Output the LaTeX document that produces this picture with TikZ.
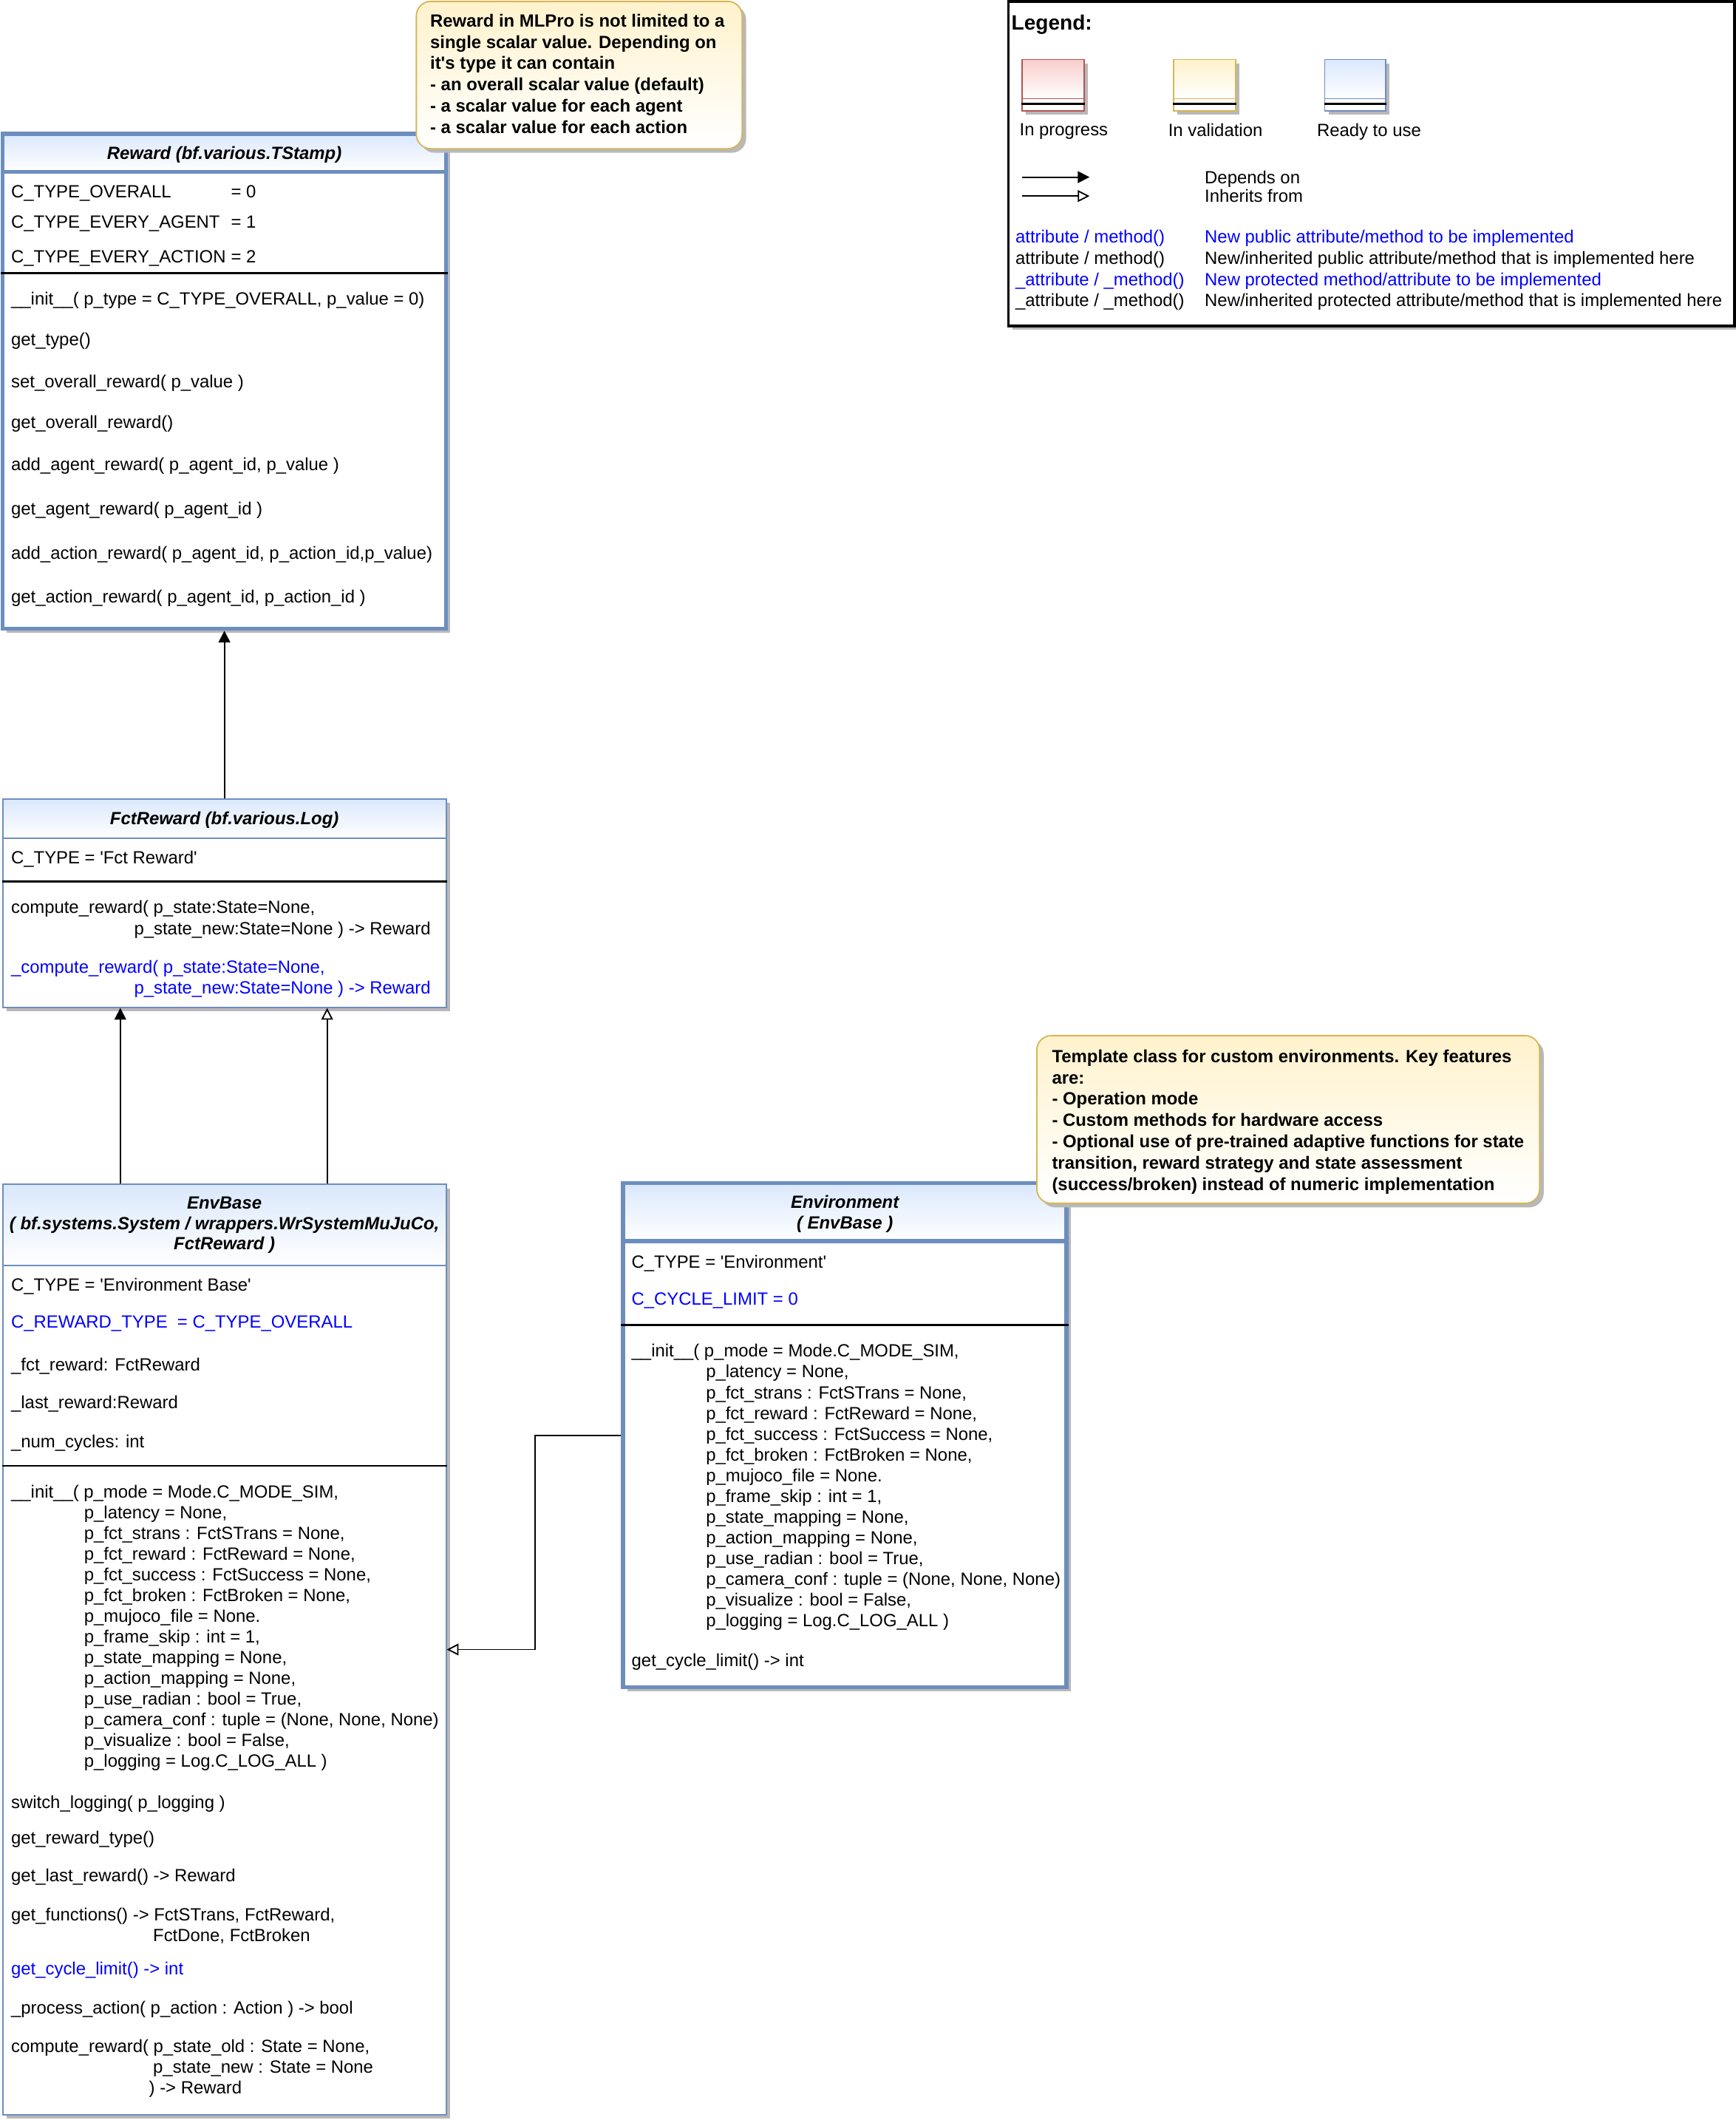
\documentclass[tikz,border=0pt]{standalone}
\usepackage{fontspec}
\setmainfont{Liberation Sans}
\usetikzlibrary{arrows.meta,fit,shadows}
\definecolor{bluebd}{HTML}{6C8EBF}
\definecolor{bluefill}{HTML}{DAE8FC}
\definecolor{notebd}{HTML}{D6B656}
\definecolor{notefill}{HTML}{FFF2CC}
\definecolor{redbd}{HTML}{B85450}
\definecolor{redfill}{HTML}{F8CECC}
\definecolor{blutxt}{HTML}{0000FF}
\begin{document}
\begin{tikzpicture}[x=0.75pt,y=0.75pt,yscale=-1,xscale=1,
  shade/.style={drop shadow={shadow xshift=2.25pt,shadow yshift=-2.25pt,fill=black!28,opacity=1}},
  classbox/.style={draw=bluebd,fill=white,inner sep=0pt,line width=0.75pt,shade},
  headbox/.style={draw=bluebd,top color=bluefill,bottom color=white,inner sep=0pt,line width=0.75pt},
  notebox/.style={draw=notebd,top color=notefill,bottom color=white,rounded corners=8pt,inner sep=0pt,line width=0.75pt,shade},
  txt/.style={anchor=north west,inner sep=0pt,align=left,font=\fontsize{9.8}{11.5}\selectfont},
  ttl/.style={anchor=north,inner sep=0pt,align=center,font=\fontsize{9.8}{11.3}\selectfont\bfseries\itshape},
  notetxt/.style={anchor=north west,inner sep=0pt,align=left,font=\fontsize{9.8}{11.85}\selectfont\bfseries},
  sepline/.style={draw=black,line width=1pt},
  dep/.style={draw=black,line width=0.75pt,-{Triangle[length=6.5pt,width=6.5pt]}},
  inh/.style={draw=black,line width=0.75pt,-{Triangle[open,length=6.5pt,width=6.5pt,fill=white]}}]
\useasboundingbox (0,0) rectangle (1284,1568);

%Shape: Class Reward
\node [classbox,line width=2.25pt,fit={(2,99) (330,465)}] (reward) {};
\node [headbox,line width=2.25pt,fit={(2,99) (330,127)}] (rewardhead) {};
\draw (166,108) node [ttl] (rewardttl) {Reward (bf.various.TStamp)};
% Text Node
\draw (8,137) node [txt] (rwattr1) {\makebox[122pt][l]{C\_TYPE\_OVERALL}= 0};
\draw (8,159) node [txt] (rwattr2) {\makebox[122pt][l]{C\_TYPE\_EVERY\_AGENT}= 1};
\draw (8,185) node [txt] (rwattr3) {\makebox[122pt][l]{C\_TYPE\_EVERY\_ACTION}= 2};
%Straight Lines
\draw [sepline] (reward.west |- 0,202) -- (reward.east |- 0,202);
% Text Node
\draw (8,216) node [txt] (rwmeth1) {\_\_init\_\_( p\_type = C\_TYPE\_OVERALL, p\_value = 0)};
\draw (8,246) node [txt] (rwmeth2) {get\_type()};
\draw (8,277) node [txt] (rwmeth3) {set\_overall\_reward( p\_value )};
\draw (8,307) node [txt] (rwmeth4) {get\_overall\_reward()};
\draw (8,338) node [txt] (rwmeth5) {add\_agent\_reward( p\_agent\_id, p\_value )};
\draw (8,371) node [txt] (rwmeth6) {get\_agent\_reward( p\_agent\_id )};
\draw (8,404) node [txt] (rwmeth7) {add\_action\_reward( p\_agent\_id, p\_action\_id,p\_value)};
\draw (8,436) node [txt] (rwmeth8) {get\_action\_reward( p\_agent\_id, p\_action\_id )};

%Shape: Note Reward
\node [notebox,fit={(308,1) (549,110)}] (rewardnote) {};
\draw (318,10) node [notetxt] (rewardnotetxt) {Reward in MLPro is not limited to a\\single scalar value. Depending on\\it\textquotesingle s type it can contain\\- an overall scalar value (default)\\- a scalar value for each agent\\- a scalar value for each action};

%Shape: Class FctReward
\node [classbox,fit={(2,591) (330,745)}] (fctreward) {};
\node [headbox,fit={(2,591) (330,620)}] (fctrewardhead) {};
\draw (166,600) node [ttl] (fctrewardttl) {FctReward (bf.various.Log)};
% Text Node
\draw (8,629) node [txt] (frattr1) {C\_TYPE = \textquotesingle Fct Reward\textquotesingle};
%Straight Lines
\draw [sepline] (fctreward.west |- 0,652) -- (fctreward.east |- 0,652);
% Text Node
\draw (8,666) node [txt] (frmeth1) {compute\_reward( p\_state:State=None,\\\hspace*{68.25pt}p\_state\_new:State=None ) -> Reward};
\draw (8,710) node [txt,text=blutxt] (frmeth2) {\_compute\_reward( p\_state:State=None,\\\hspace*{68.25pt}p\_state\_new:State=None ) -> Reward};

%Shape: Class EnvBase
\node [classbox,fit={(2,876) (330,1564)}] (envbase) {};
\node [headbox,fit={(2,876) (330,936)}] (envbasehead) {};
\draw (166,885) node [ttl] (envbasettl) {EnvBase\\( bf.systems.System / wrappers.WrSystemMuJuCo,\\FctReward )};
% Text Node
\draw (8,945) node [txt] (ebattr1) {C\_TYPE = \textquotesingle Environment Base\textquotesingle};
\draw (8,973) node [txt,text=blutxt] (ebattr2) {C\_REWARD\_TYPE\ \ = C\_TYPE\_OVERALL};
\draw (8,1004) node [txt] (ebattr3) {\_fct\_reward: FctReward};
\draw (8,1032) node [txt] (ebattr4) {\_last\_reward:Reward};
\draw (8,1061) node [txt] (ebattr5) {\_num\_cycles: int};
%Straight Lines
\draw [sepline] (envbase.west |- 0,1084) -- (envbase.east |- 0,1084);
% Text Node
\draw (8,1098) node [txt] (ebmeth1) {\_\_init\_\_( p\_mode = Mode.C\_MODE\_SIM,\\
\hspace*{40.5pt}p\_latency = None,\\
\hspace*{40.5pt}p\_fct\_strans : FctSTrans = None,\\
\hspace*{40.5pt}p\_fct\_reward : FctReward = None,\\
\hspace*{40.5pt}p\_fct\_success : FctSuccess = None,\\
\hspace*{40.5pt}p\_fct\_broken : FctBroken = None,\\
\hspace*{40.5pt}p\_mujoco\_file = None.\\
\hspace*{40.5pt}p\_frame\_skip : int = 1,\\
\hspace*{40.5pt}p\_state\_mapping = None,\\
\hspace*{40.5pt}p\_action\_mapping = None,\\
\hspace*{40.5pt}p\_use\_radian : bool = True,\\
\hspace*{40.5pt}p\_camera\_conf : tuple = (None, None, None)\\
\hspace*{40.5pt}p\_visualize : bool = False,\\
\hspace*{40.5pt}p\_logging = Log.C\_LOG\_ALL )};
\draw (8,1328) node [txt] (ebmeth2) {switch\_logging( p\_logging )};
\draw (8,1354) node [txt] (ebmeth3) {get\_reward\_type()};
\draw (8,1382) node [txt] (ebmeth4) {get\_last\_reward() -> Reward};
\draw (8,1411) node [txt] (ebmeth5) {get\_functions() -> FctSTrans, FctReward,\\\hspace*{78.75pt}FctDone, FctBroken};
\draw (8,1451) node [txt,text=blutxt] (ebmeth6) {get\_cycle\_limit() -> int};
\draw (8,1480) node [txt] (ebmeth7) {\_process\_action( p\_action : Action ) -> bool};
\draw (8,1508) node [txt] (ebmeth8) {compute\_reward( p\_state\_old : State = None,\\\hspace*{78.75pt}p\_state\_new : State = None\\\hspace*{76.5pt}) -> Reward};

%Shape: Class Environment
\node [classbox,line width=2.25pt,fit={(461,875) (789,1248)}] (environment) {};
\node [headbox,line width=2.25pt,fit={(461,875) (789,918)}] (environmenthead) {};
\draw (625,884) node [ttl] (environmentttl) {Environment\\( EnvBase )};
% Text Node
\draw (467,928) node [txt] (enattr1) {C\_TYPE = \textquotesingle Environment\textquotesingle};
\draw (467,956) node [txt,text=blutxt] (enattr2) {C\_CYCLE\_LIMIT = 0};
%Straight Lines
\draw [sepline] (environment.west |- 0,980) -- (environment.east |- 0,980);
% Text Node
\draw (467,994) node [txt] (enmeth1) {\_\_init\_\_( p\_mode = Mode.C\_MODE\_SIM,\\
\hspace*{41.25pt}p\_latency = None,\\
\hspace*{41.25pt}p\_fct\_strans : FctSTrans = None,\\
\hspace*{41.25pt}p\_fct\_reward : FctReward = None,\\
\hspace*{41.25pt}p\_fct\_success : FctSuccess = None,\\
\hspace*{41.25pt}p\_fct\_broken : FctBroken = None,\\
\hspace*{41.25pt}p\_mujoco\_file = None.\\
\hspace*{41.25pt}p\_frame\_skip : int = 1,\\
\hspace*{41.25pt}p\_state\_mapping = None,\\
\hspace*{41.25pt}p\_action\_mapping = None,\\
\hspace*{41.25pt}p\_use\_radian : bool = True,\\
\hspace*{41.25pt}p\_camera\_conf : tuple = (None, None, None)\\
\hspace*{41.25pt}p\_visualize : bool = False,\\
\hspace*{41.25pt}p\_logging = Log.C\_LOG\_ALL )};
\draw (467,1223) node [txt] (enmeth2) {get\_cycle\_limit() -> int};

%Shape: Note Environment
\node [notebox,fit={(767,766) (1139,890)}] (envnote) {};
\draw (778,776) node [notetxt] (envnotetxt) {Template class for custom environments. Key features\\are:\\- Operation mode\\- Custom methods for hardware access\\- Optional use of pre-trained adaptive functions for state\\transition, reward strategy and state assessment\\(success/broken) instead of numeric implementation};

%Straight Lines
\draw [dep] (fctreward.north) -- (reward.south);
\draw [dep] (89,0 |- envbase.north) -- (89,0 |- fctreward.south);
\draw [inh] (242,0 |- envbase.north) -- (242,0 |- fctreward.south);
\draw [inh] (environment.west) -| (396,0 |- envbase.east) -- (envbase.east);

%Shape: Legend
\node [draw=black,fill=white,inner sep=0pt,line width=1.5pt,shade,fit={(746,1) (1283,241)}] (legend) {};
\draw (748,11) node [anchor=north west,inner sep=0pt,font=\fontsize{11.5}{13}\selectfont\bfseries] (legendttl) {Legend:};
%Shape: Swatches
\node [draw=redbd,fill=white,inner sep=0pt,line width=0.75pt,shade,fit={(756,44) (802,82)}] (swred) {};
\node [draw=redbd,top color=redfill,bottom color=white,inner sep=0pt,line width=0.75pt,fit={(756,44) (802,73)}] (swredhead) {};
\draw [line width=1.2pt] (swred.west |- 0,77) -- (swred.east |- 0,77);
\node [draw=notebd,fill=white,inner sep=0pt,line width=0.75pt,shade,fit={(868,44) (914,82)}] (swyel) {};
\node [draw=notebd,top color=notefill,bottom color=white,inner sep=0pt,line width=0.75pt,fit={(868,44) (914,73)}] (swyelhead) {};
\draw [line width=1.2pt] (swyel.west |- 0,77) -- (swyel.east |- 0,77);
\node [draw=bluebd,fill=white,inner sep=0pt,line width=0.75pt,shade,fit={(980,44) (1025,82)}] (swblu) {};
\node [draw=bluebd,top color=bluefill,bottom color=white,inner sep=0pt,line width=0.75pt,fit={(980,44) (1025,73)}] (swbluhead) {};
\draw [line width=1.2pt] (swblu.west |- 0,77) -- (swblu.east |- 0,77);
% Text Node
\draw (754,91) node [txt] (lgprog) {In progress};
\draw (864,91) node [txt] (lgvalid) {In validation};
\draw (974,91) node [txt] (lgready) {Ready to use};
%Straight Lines
\coordinate (depfrom) at (756,131);
\coordinate (depto) at (806,131);
\coordinate (inhfrom) at (756,145);
\coordinate (inhto) at (806,145);
\draw [dep] (depfrom) -- (depto);
\draw [inh] (inhfrom) -- (inhto);
% Text Node
\draw (891,126) node [txt,font=\fontsize{9.8}{10.5}\selectfont] (lgarrows) {Depends on\\Inherits from};
\draw (751,170) node [txt,font=\fontsize{9.8}{11.75}\selectfont] (lgkeys) {\textcolor{blutxt}{attribute / method()}\\attribute / method()\\\textcolor{blutxt}{\_attribute / \_method()}\\\_attribute / \_method()};
\draw (891,170) node [txt,font=\fontsize{9.8}{11.75}\selectfont] (lgdesc) {\textcolor{blutxt}{New public attribute/method to be implemented}\\New/inherited public attribute/method that is implemented here\\\textcolor{blutxt}{New protected method/attribute to be implemented}\\New/inherited protected attribute/method that is implemented here};

\end{tikzpicture}
\end{document}
